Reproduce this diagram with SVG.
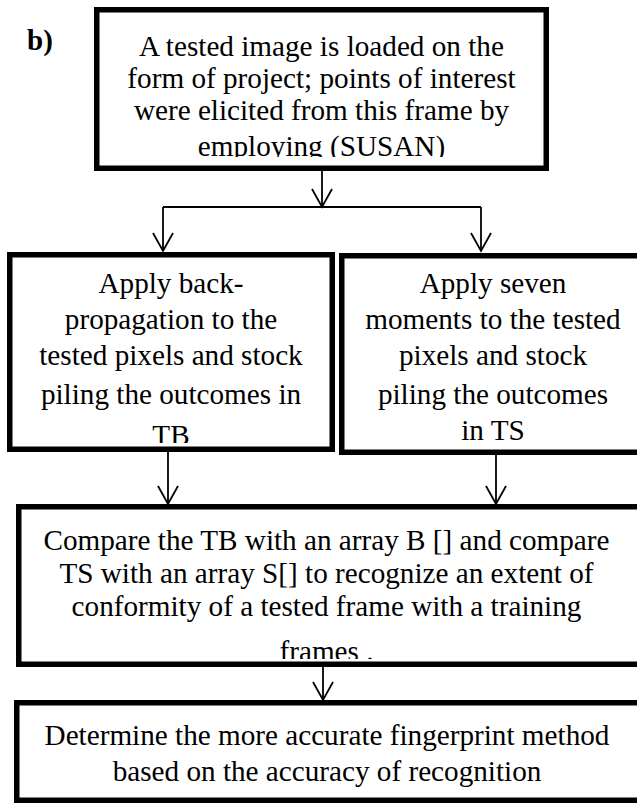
<svg xmlns="http://www.w3.org/2000/svg" width="637" height="803" viewBox="0 0 637 803">
<style>
.box{fill:#fff;stroke:#000;stroke-width:5.5}
.t{font-family:"Liberation Serif","Times New Roman",serif;font-size:29.2px;fill:#000;text-anchor:middle}
.lbl{font-family:"Liberation Serif","Times New Roman",serif;font-size:29px;font-weight:bold;fill:#000}
.c{fill:none;stroke:#000;stroke-width:1.8}
.a{marker-end:url(#arr)}
</style>
<defs>
<marker id="arr" markerUnits="userSpaceOnUse" viewBox="-20 -12 22 24" refX="0" refY="0" markerWidth="22" markerHeight="24" orient="auto" overflow="visible">
<path d="M-18,-10 L0,0 L-18,10" fill="none" stroke="#000" stroke-width="1.8"/>
</marker>
<clipPath id="c1"><rect x="99" y="12" width="445" height="145"/></clipPath>
<clipPath id="c2"><rect x="12" y="257" width="318" height="186"/></clipPath>
<clipPath id="c4"><rect x="21" y="509" width="630" height="150"/></clipPath>
</defs>
<text class="lbl" x="27" y="50">b)</text>
<g id="node1">
<rect class="box" x="96.75" y="9.75" width="449.5" height="158.5"/>
<g clip-path="url(#c1)">
<text class="t" x="321.5" y="56">A tested image is loaded on the</text>
<text class="t" x="321.5" y="88">form of project; points of interest</text>
<text class="t" x="321.5" y="120">were elicited from this frame by</text>
<text class="t" x="321.5" y="156">employing (SUSAN)</text>
</g>
</g>
<g id="node2">
<rect class="box" x="9.75" y="254.75" width="322.5" height="194.5"/>
<g clip-path="url(#c2)">
<text class="t" x="171" y="293">Apply back-</text>
<text class="t" x="171" y="329">propagation to the</text>
<text class="t" x="171" y="365">tested pixels and stock</text>
<text class="t" x="171" y="404">piling the outcomes in</text>
<text class="t" x="171" y="445">TB</text>
</g>
</g>
<g id="node3">
<rect class="box" x="341.75" y="255.75" width="305" height="196.5"/>
<text class="t" x="493" y="293">Apply seven</text>
<text class="t" x="493" y="329">moments to the tested</text>
<text class="t" x="493" y="365">pixels and stock</text>
<text class="t" x="493" y="404">piling the outcomes</text>
<text class="t" x="493" y="440">in TS</text>
</g>
<g id="node4">
<rect class="box" x="18.75" y="506.75" width="628" height="157.5"/>
<g clip-path="url(#c4)">
<text class="t" x="326.5" y="550">Compare the TB with an array B [] and compare</text>
<text class="t" x="326.5" y="583">TS with an array S[] to recognize an extent of</text>
<text class="t" x="326.5" y="616">conformity of a tested frame with a training</text>
<text class="t" x="326.5" y="661">frames .</text>
</g>
</g>
<g id="node5">
<rect class="box" x="16.75" y="702.75" width="630" height="97.5"/>
<text class="t" x="327" y="745">Determine the more accurate fingerprint method</text>
<text class="t" x="327" y="781">based on the accuracy of recognition</text>
</g>
<g id="connectors">
<path class="c a" d="M322,171 V207"/>
<path class="c" d="M163,207 H481"/>
<path class="c a" d="M163,207 V251"/>
<path class="c a" d="M481,207 V251"/>
<path class="c a" d="M168,452 V504"/>
<path class="c a" d="M496,455 V504"/>
<path class="c a" d="M323,667 V700"/>
</g>
</svg>
